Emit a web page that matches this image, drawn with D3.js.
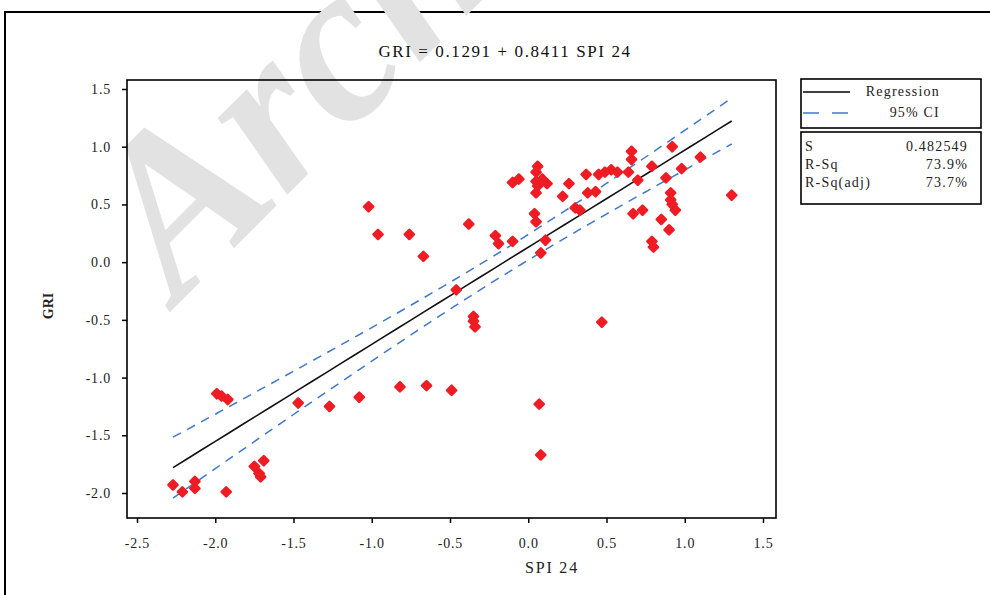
<!DOCTYPE html>
<html>
<head>
  <meta charset="utf-8">
  <script src="https://cdn.jsdelivr.net/npm/d3@7/dist/d3.min.js"></script>
  <style>
    body { margin: 0; background: #fff; }
    svg { display: block; font-family: "Liberation Serif", "DejaVu Serif", serif; }
  </style>
</head>
<body>
<svg id="svg" width="990" height="595"></svg>
<script>
  // data: SPI 24 (x) and GRI (y)
  var spi = [-2.27, -2.21, -2.13, -2.13, -1.93, -1.99, -1.96, -1.92, -1.75, -1.72, -1.71, -1.69,
    -1.47, -1.27, -1.08, -0.82, -0.65, -0.49, -0.46, -0.35, -0.35, -0.34, 0.07, 0.08,
    -1.02, -0.96, -0.76, -0.67, -0.38, -0.21, -0.19, -0.10, -0.10, -0.06, 0.06, 0.05,
    0.05, 0.12, 0.05, 0.04, 0.05, 0.11, 0.08, 0.26, 0.22, 0.30, 0.33, 0.37, 0.43, 0.38,
    0.45, 0.49, 0.53, 0.57, 0.64, 0.66, 0.66, 0.70, 0.79, 0.88, 0.92, 0.98, 1.10, 1.30,
    0.67, 0.73, 0.85, 0.90, 0.91, 0.91, 0.92, 0.94, 0.79, 0.80, 0.47, 0.06, 0.09];
  var gri = [-1.93, -1.99, -1.90, -1.96, -1.99, -1.14, -1.16, -1.19, -1.77, -1.83, -1.86, -1.72,
    -1.22, -1.25, -1.17, -1.08, -1.07, -1.11, -0.24, -0.47, -0.51, -0.56, -1.23, -1.67,
    0.48, 0.24, 0.24, 0.05, 0.33, 0.23, 0.16, 0.18, 0.69, 0.72, 0.83, 0.78,
    0.70, 0.68, 0.60, 0.42, 0.35, 0.19, 0.08, 0.68, 0.57, 0.47, 0.45, 0.76, 0.61, 0.60,
    0.76, 0.78, 0.80, 0.78, 0.78, 0.96, 0.89, 0.71, 0.83, 0.73, 1.00, 0.81, 0.91, 0.58,
    0.42, 0.45, 0.37, 0.28, 0.60, 0.54, 0.50, 0.45, 0.18, 0.13, -0.52, 0.66, 0.72];

  var xTicks = [-2.5, -2.0, -1.5, -1.0, -0.5, 0.0, 0.5, 1.0, 1.5];
  var xTickLabels = ['-2.5', '-2.0', '-1.5', '-1.0', '-0.5', '0.0', '0.5', '1.0', '1.5'];
  var yTicks = [-2.0, -1.5, -1.0, -0.5, 0.0, 0.5, 1.0, 1.5];
  var yTickLabels = ['-2.0', '-1.5', '-1.0', '-0.5', '0.0', '0.5', '1.0', '1.5'];

  // fit reported in the title and the stats box
  var intercept = 0.1291, slope = 0.8411, sErr = 0.482549, tCrit = 1.99;
  var statRows = [['S', '0.482549'], ['R-Sq', '73.9%'], ['R-Sq(adj)', '73.7%']];

  var svg = d3.select('#svg');

  var x = d3.scaleLinear().domain([-2.5, 1.5]).range([137, 763]);
  var y = d3.scaleLinear().domain([-2.0, 1.5]).range([493, 89]);

  // outer border
  svg.append('path')
    .attr('d', 'M5,600 L5,12 L995,12')
    .attr('fill', 'none').attr('stroke', '#000').attr('stroke-width', 2);

  // watermark
  svg.append('text')
    .attr('transform', 'translate(178,304) rotate(-45)')
    .attr('font-size', 225).attr('font-weight', 'bold').attr('font-style', 'italic')
    .attr('fill', '#e2e2e2')
    .text('Archive');

  svg.append('text')
    .attr('x', 505).attr('y', 57).attr('text-anchor', 'middle')
    .attr('font-size', 17).attr('letter-spacing', 1.6).attr('fill', '#111')
    .text('GRI = 0.1291 + 0.8411 SPI 24');

  // axes
  var xAxis = svg.append('g').attr('transform', 'translate(0,518)')
    .call(d3.axisBottom(x).tickValues(xTicks).tickSize(5).tickPadding(15)
      .tickFormat((d, i) => xTickLabels[i]));
  var yAxis = svg.append('g').attr('transform', 'translate(127,0)')
    .call(d3.axisLeft(y).tickValues(yTicks).tickSize(5).tickPadding(11)
      .tickFormat((d, i) => yTickLabels[i]));
  [xAxis, yAxis].forEach(a => {
    a.select('.domain').remove();
    a.selectAll('line').attr('stroke', '#000').attr('stroke-width', 1.5);
    a.selectAll('text').attr('font-family', '"Liberation Serif", serif')
      .attr('font-size', 14).attr('letter-spacing', 0.8).attr('fill', '#222');
  });

  svg.append('rect')
    .attr('x', 127).attr('y', 80).attr('width', 649).attr('height', 438)
    .attr('fill', 'none').attr('stroke', '#000').attr('stroke-width', 1.6);

  svg.append('text')
    .attr('x', 552).attr('y', 573).attr('text-anchor', 'middle')
    .attr('font-size', 16).attr('letter-spacing', 1.8).attr('fill', '#222')
    .text('SPI 24');
  svg.append('text')
    .attr('transform', 'translate(53,306) rotate(-90)').attr('text-anchor', 'middle')
    .attr('font-size', 14).attr('font-weight', 'bold').attr('fill', '#222')
    .text('GRI');

  // regression line and 95% CI for the mean
  var n = spi.length;
  var xbar = d3.mean(spi);
  var sxx = d3.sum(spi, v => (v - xbar) * (v - xbar));
  var xs = d3.range(0, 41).map(i => d3.min(spi) + (d3.max(spi) - d3.min(spi)) * i / 40);
  var fit = v => intercept + slope * v;
  var half = v => tCrit * sErr * Math.sqrt(1 / n + (v - xbar) * (v - xbar) / sxx);
  var line = d3.line().x(d => x(d[0])).y(d => y(d[1]));

  svg.append('path')
    .attr('d', line(xs.map(v => [v, fit(v)])))
    .attr('fill', 'none').attr('stroke', '#111').attr('stroke-width', 1.6);
  [1, -1].forEach(sgn => {
    svg.append('path')
      .attr('d', line(xs.map(v => [v, fit(v) + sgn * half(v)])))
      .attr('fill', 'none').attr('stroke', '#3f78d0').attr('stroke-width', 1.5)
      .attr('stroke-dasharray', '9,7');
  });

  // points: rounded diamonds
  var pts = spi.map((v, i) => [v, gri[i]]);
  svg.append('g').selectAll('path').data(pts).enter().append('path')
    .attr('transform', d => 'translate(' + x(d[0]) + ',' + y(d[1]) + ') rotate(45)')
    .attr('d', d3.symbol().type(d3.symbolSquare).size(42))
    .attr('fill', '#ee1c24').attr('stroke', '#ee1c24').attr('stroke-width', 2.5)
    .attr('stroke-linejoin', 'round');

  // legend
  var legendText = (sel) => sel.attr('font-size', 14).attr('letter-spacing', 1.2).attr('fill', '#222');
  svg.append('rect').attr('x', 801).attr('y', 79).attr('width', 180).attr('height', 49)
    .attr('fill', '#fff').attr('stroke', '#000').attr('stroke-width', 1.6);
  svg.append('line').attr('x1', 803).attr('x2', 850).attr('y1', 92).attr('y2', 92)
    .attr('stroke', '#000').attr('stroke-width', 1.5);
  svg.append('line').attr('x1', 803).attr('x2', 850).attr('y1', 113).attr('y2', 113)
    .attr('stroke', '#3f78d0').attr('stroke-width', 1.5).attr('stroke-dasharray', '16,13');
  svg.append('text').attr('x', 940).attr('y', 96).attr('text-anchor', 'end')
    .call(legendText).text('Regression');
  svg.append('text').attr('x', 940).attr('y', 117).attr('text-anchor', 'end')
    .call(legendText).text('95% CI');

  svg.append('rect').attr('x', 801).attr('y', 132).attr('width', 180).attr('height', 72)
    .attr('fill', '#fff').attr('stroke', '#000').attr('stroke-width', 1.6);
  statRows.forEach((r, i) => {
    svg.append('text').attr('x', 805).attr('y', 151 + i * 18)
      .call(legendText).text(r[0]);
    svg.append('text').attr('x', 968).attr('y', 151 + i * 18).attr('text-anchor', 'end')
      .call(legendText).text(r[1]);
  });
</script>
</body>
</html>
